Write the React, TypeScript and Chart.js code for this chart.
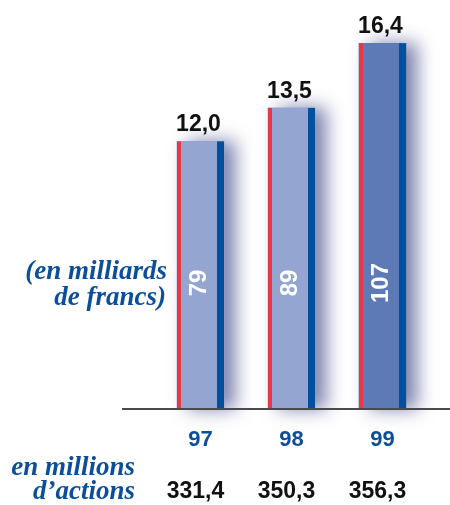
import React, { useEffect, useRef } from "react";
import { Chart, registerables } from "chart.js";

Chart.register(...registerables);

// ---- data ----
const years = ["97", "98", "99"];
const capitalisation = [12.0, 13.5, 16.4]; // bar heights
const capLabels = ["12,0", "13,5", "16,4"];
const francsLabels = ["79", "89", "107"]; // en milliards de francs
const actionsLabels = ["331,4", "350,3", "356,3"]; // en millions d'actions
const barColors = ["#93A5D0", "#93A5D0", "#5E7AB6"];

const BLUE_TEXT = "#0B4F9C";
const RED = "#E83846";
const NAVY = "#00509E";

const decorPlugin = {
  id: "decor",
  beforeDatasetsDraw(chart: any) {
    const ctx = chart.ctx;
    ctx.save();
    ctx.shadowColor = "rgba(40,50,120,0.6)";
    ctx.shadowBlur = 18;
    ctx.shadowOffsetX = 11;
    ctx.shadowOffsetY = 0;
  },
  afterDatasetsDraw(chart: any) {
    const ctx = chart.ctx;
    ctx.restore();
    const area = chart.chartArea;
    const meta = chart.getDatasetMeta(0);
    meta.data.forEach((bar: any, i: number) => {
      const { x, y, base, width } = bar.getProps(["x", "y", "base", "width"], true);
      const left = x - width / 2;
      const right = x + width / 2;
      ctx.fillStyle = RED;
      ctx.fillRect(left, y, 4, base - y);
      ctx.fillStyle = NAVY;
      ctx.fillRect(right - 7, y, 7, base - y);

      ctx.save();
      ctx.fillStyle = "#111";
      ctx.font = "bold 23px 'Liberation Sans', Arial, sans-serif";
      ctx.textAlign = "center";
      ctx.textBaseline = "alphabetic";
      ctx.fillText(capLabels[i], x - 2, y - 10);
      ctx.restore();

      ctx.save();
      ctx.translate(x - 1, 283);
      ctx.rotate(-Math.PI / 2);
      ctx.fillStyle = "#FFFFFF";
      ctx.font = "bold 24px 'Liberation Sans', Arial, sans-serif";
      ctx.textAlign = "center";
      ctx.textBaseline = "middle";
      ctx.fillText(francsLabels[i], 0, 0);
      ctx.restore();
    });

    // baseline
    ctx.save();
    ctx.strokeStyle = "#4A4A4A";
    ctx.lineWidth = 2;
    ctx.beginPath();
    ctx.moveTo(area.left - 33, area.bottom);
    ctx.lineTo(450, area.bottom);
    ctx.stroke();
    ctx.restore();
  },
  afterDraw(chart: any) {
    const ctx = chart.ctx;
    const xs = chart.scales.x;
    ctx.save();
    // left annotations
    ctx.fillStyle = BLUE_TEXT;
    ctx.font = "bold italic 27px 'Liberation Serif', 'Times New Roman', serif";
    ctx.textAlign = "right";
    ctx.textBaseline = "alphabetic";
    ctx.fillText("(en milliards", 167, 279);
    ctx.fillText("de francs)", 166, 305);
    ctx.fillText("en millions", 135, 475);
    ctx.fillText("d\u2019actions", 135, 499);

    // number of shares row
    ctx.fillStyle = "#111";
    ctx.font = "bold 23px 'Liberation Sans', Arial, sans-serif";
    ctx.textAlign = "center";
    actionsLabels.forEach((t, i) => {
      ctx.fillText(t, xs.getPixelForValue(i) - 5, 498);
    });
    ctx.restore();
  },
};

export default function App() {
  const ref = useRef<HTMLCanvasElement | null>(null);
  useEffect(() => {
    if (!ref.current) return;
    const chart = new Chart(ref.current, {
      type: "bar",
      data: {
        labels: years,
        datasets: [
          {
            data: capitalisation,
            backgroundColor: barColors,
            borderWidth: 0,
            barThickness: 47,
            clip: false as any,
          },
        ],
      },
      options: {
        animation: false,
        responsive: false,
        layout: { padding: { left: 155, right: 22, top: 0, bottom: 0 } },
        plugins: { legend: { display: false }, tooltip: { enabled: false } },
        scales: {
          y: { display: false, min: 0, max: 409 / 22.3 },
          x: {
            grid: { display: false },
            border: { display: false },
            ticks: {
              color: BLUE_TEXT,
              font: { family: "'Liberation Sans', Arial, sans-serif", size: 22, weight: "bold" },
              padding: 10,
            },
            afterFit: (scale: any) => {
              scale.height = 96;
            },
          },
        },
      },
      plugins: [decorPlugin],
    });
    return () => chart.destroy();
  }, []);
  return (
    <div style={{ position: "absolute", left: 0, top: 0, width: 450, height: 505 }}>
      <canvas ref={ref} width={450} height={505} />
    </div>
  );
}
